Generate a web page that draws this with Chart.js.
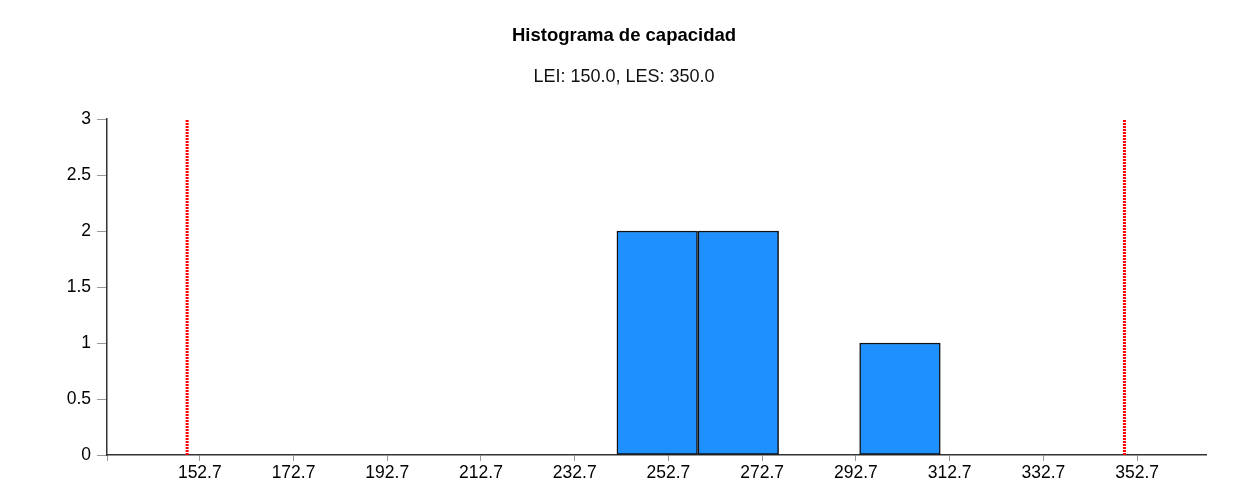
<!DOCTYPE html>
<html><head><meta charset="utf-8">
<script src="https://cdn.jsdelivr.net/npm/chart.js@4/dist/chart.umd.min.js"></script>
<style>html,body{margin:0;padding:0;background:#fff}#wrap{width:1234px;height:504px;position:relative}</style>
</head><body><div id="wrap"><canvas id="c"></canvas></div>
<script>
// ---- data ----
const binCenters = [250.3, 267.6, 284.8, 302.1];
const binCounts = [2, 2, 0, 1];
const xTickValues = [152.7, 172.7, 192.7, 212.7, 232.7, 252.7, 272.7, 292.7, 312.7, 332.7, 352.7];
const yTickValues = [0, 0.5, 1, 1.5, 2, 2.5, 3];
const specLimits = [150.0, 350.0]; // LEI, LES
const xDomain = [132.9, 367.4];
const titleText = 'Histograma de capacidad';
const subtitleText = 'LEI: 150.0, LES: 350.0';

const FONT = "'Liberation Sans', Arial, sans-serif";
const yMax = yTickValues[yTickValues.length - 1];

const barData = binCenters.map((c, i) => ({x: c, y: binCounts[i] === 0 ? null : binCounts[i]}));
const limitLine = v => [{x: v, y: 0}, {x: v, y: yMax}];

new Chart(document.getElementById('c'), {
  type: 'bar',
  data: {
    datasets: [
      {
        type: 'bar',
        data: barData,
        backgroundColor: '#1E90FF',
        borderColor: '#111',
        borderWidth: 1.5,
        borderSkipped: false,
        barPercentage: 1,
        categoryPercentage: 1,
        order: 2
      },
      {
        type: 'line', data: limitLine(specLimits[0]),
        borderColor: '#ff0000', borderWidth: 3, borderDash: [2, 1],
        pointRadius: 0, fill: false, order: 1
      },
      {
        type: 'line', data: limitLine(specLimits[1]),
        borderColor: '#ff0000', borderWidth: 3, borderDash: [2, 1],
        pointRadius: 0, fill: false, order: 1
      }
    ]
  },
  options: {
    responsive: true,
    maintainAspectRatio: false,
    animation: false,
    layout: {padding: {left: 14, right: 0, top: 0, bottom: 0}},
    plugins: {
      legend: {display: false},
      tooltip: {enabled: false},
      title: {
        display: true, text: titleText, color: '#000',
        font: {family: FONT, size: 18.5, weight: 'bold'},
        padding: {top: 24.5, bottom: 0}
      },
      subtitle: {
        display: true, text: subtitleText, color: '#111',
        font: {family: FONT, size: 18, weight: 'normal'},
        padding: {top: 20, bottom: 30.7}
      }
    },
    scales: {
      x: {
        type: 'linear',
        min: xDomain[0], max: xDomain[1],
        offset: false,
        grid: {display: true, drawOnChartArea: false, drawTicks: true, tickLength: 6, color: '#999', offset: false},
        border: {display: true, color: '#333', width: 1.5},
        afterBuildTicks: s => { s.ticks = [{value: xDomain[0]}].concat(xTickValues.map(v => ({value: v}))); },
        ticks: {
          autoSkip: false, maxRotation: 0, padding: 2,
          color: '#000', font: {family: FONT, size: 17.5},
          callback: v => xTickValues.includes(v) ? v.toFixed(1) : ''
        },
        afterFit: s => { s.height = 49; }
      },
      y: {
        type: 'linear',
        min: 0, max: yMax,
        afterBuildTicks: s => { s.ticks = yTickValues.map(v => ({value: v})); },
        grid: {display: true, drawOnChartArea: false, drawTicks: true, tickLength: 10, color: '#999'},
        border: {display: true, color: '#333', width: 1.5},
        ticks: {padding: 6, color: '#000', font: {family: FONT, size: 17.5}, callback: v => String(v)},
        afterFit: s => { s.width = 93; }
      },
      yRight: {
        type: 'linear', position: 'right', display: true,
        grid: {display: false}, border: {display: false},
        ticks: {display: false},
        afterFit: s => { s.width = 28; }
      }
    }
  }
});
</script>
</body></html>
